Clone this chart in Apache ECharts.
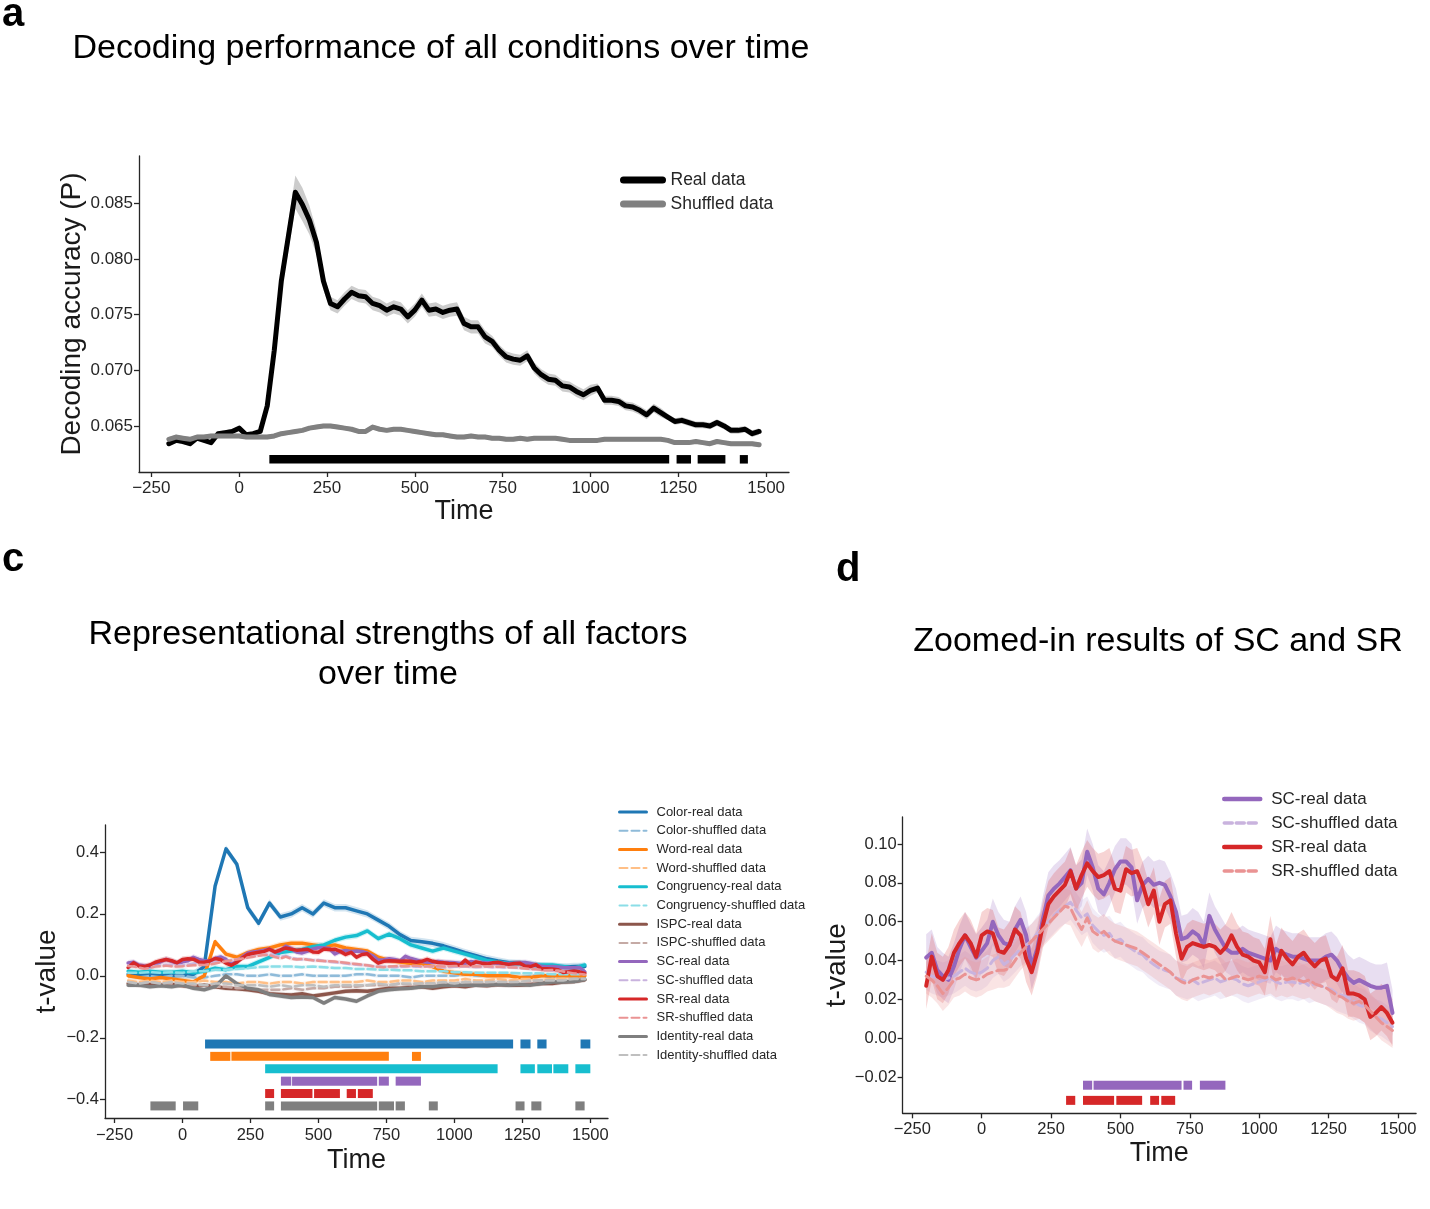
<!DOCTYPE html>
<html>
<head>
<meta charset="utf-8">
<script src="https://cdn.jsdelivr.net/npm/echarts@6/dist/echarts.min.js"></script>
<style>
html, body { margin: 0; padding: 0; background: #fff; }
#chart { width: 1430px; height: 1209px; }
</style>
</head>
<body>
<div id="chart"></div>
<script>
var FONT = "'Liberation Sans', Arial, sans-serif";
var INK = '#262626';

// 时间轴
var aTime = [-200,-180,-160,-140,-120,-100,-80,-60,-40,-20,
  0,20,40,60,80,100,120,140,160,180,
  200,220,240,260,280,300,320,340,360,380,
  400,420,440,460,480,500,520,540,560,580,
  600,620,640,660,680,700,720,740,760,780,
  800,820,840,860,880,900,920,940,960,980,
  1000,1020,1040,1060,1080,1100,1120,1140,1160,1180,
  1200,1220,1240,1260,1280,1300,1320,1340,1360,1380,
  1400,1420,1440,1460,1480];
var dTime = aTime;
var cTime = [-200,-160,-120,-80,-40,0,40,80,120,160,
  200,240,280,320,360,400,440,480,520,560,
  600,640,680,720,760,800,840,880,920,960,
  1000,1040,1080,1120,1160,1200,1240,1280,1320,1360,
  1400,1440,1480];
var timeTicks = [-250, 0, 250, 500, 750, 1000, 1250, 1500];
var aYTicks = [0.065, 0.070, 0.075, 0.080, 0.085];
var cYTicks = [-0.4, -0.2, 0, 0.2, 0.4];
var dYTicks = [-0.02, 0, 0.02, 0.04, 0.06, 0.08, 0.10];

// a: 解码正确率
var aReal = [0.0634,0.0637,0.0636,0.0634,0.0639,0.0637,0.0635,0.0643,0.0644,0.0645,
  0.0648,0.0642,0.0643,0.0645,0.0668,0.0718,0.0780,0.0820,0.0860,0.0849,
  0.0835,0.0815,0.0780,0.0760,0.0757,0.0764,0.0770,0.0767,0.0766,0.0760,
  0.0758,0.0754,0.0757,0.0755,0.0748,0.0754,0.0763,0.0754,0.0755,0.0752,
  0.0754,0.0755,0.0742,0.0739,0.0739,0.0730,0.0726,0.0718,0.0712,0.0710,
  0.0709,0.0713,0.0702,0.0696,0.0692,0.0691,0.0686,0.0685,0.0681,0.0678,
  0.0682,0.0684,0.0673,0.0673,0.0672,0.0668,0.0667,0.0664,0.0660,0.0666,
  0.0662,0.0658,0.0654,0.0655,0.0653,0.0651,0.0651,0.0650,0.0653,0.0650,
  0.0646,0.0646,0.0647,0.0643,0.0645];
var aRealSem = [0.0002,0.0002,0.0002,0.0002,0.0002,0.0002,0.0002,0.0002,0.0002,0.0002,
  0.0002,0.0002,0.0002,0.0002,0.0004,0.0008,0.0011,0.0013,0.0015,0.0015,
  0.0013,0.0011,0.0008,0.0006,0.0006,0.0006,0.0006,0.0006,0.0006,0.0006,
  0.0006,0.0006,0.0006,0.0006,0.0006,0.0006,0.0006,0.0006,0.0006,0.0006,
  0.0006,0.0006,0.0006,0.0006,0.0006,0.0006,0.0005,0.0005,0.0005,0.0005,
  0.0005,0.0005,0.0005,0.0005,0.0005,0.0005,0.0005,0.0005,0.0005,0.0005,
  0.0005,0.0004,0.0004,0.0004,0.0004,0.0004,0.0004,0.0004,0.0004,0.0004,
  0.0004,0.0003,0.0003,0.0003,0.0003,0.0003,0.0003,0.0003,0.0003,0.0003,
  0.0003,0.0003,0.0003,0.0003,0.0003];
var aShuf = [0.0638,0.0640,0.0639,0.0638,0.0640,0.0640,0.0641,0.0641,0.0641,0.0641,
  0.0641,0.0640,0.0640,0.0640,0.0640,0.0641,0.0643,0.0644,0.0645,0.0646,
  0.0648,0.0649,0.0650,0.0650,0.0649,0.0648,0.0647,0.0645,0.0645,0.0649,
  0.0647,0.0646,0.0647,0.0647,0.0646,0.0645,0.0644,0.0643,0.0642,0.0642,
  0.0641,0.0640,0.0640,0.0641,0.0640,0.0640,0.0639,0.0639,0.0638,0.0638,
  0.0639,0.0638,0.0639,0.0639,0.0639,0.0639,0.0638,0.0637,0.0637,0.0637,
  0.0637,0.0637,0.0638,0.0638,0.0638,0.0638,0.0638,0.0638,0.0638,0.0638,
  0.0638,0.0637,0.0635,0.0635,0.0635,0.0636,0.0635,0.0634,0.0636,0.0635,
  0.0634,0.0634,0.0634,0.0634,0.0633];
var aShufSem = 0.0002;
var aSig = [[86, 1224], [1245, 1286], [1305, 1384], [1425, 1448]];
var aSigRow = 0.0620;

// c: 各因素表征强度
var cColor = [0.005,0.005,0.003,0.005,0.0,0.002,0.005,0.03,0.29,0.41,
  0.36,0.22,0.17,0.235,0.19,0.20,0.22,0.20,0.235,0.22,
  0.22,0.21,0.20,0.18,0.16,0.133,0.114,0.11,0.105,0.097,
  0.086,0.075,0.065,0.055,0.048,0.042,0.04,0.035,0.032,0.03,
  0.028,0.03,0.03];
var cColorShuf = [0.0,-0.005,0.0,-0.005,0.0,0.0,-0.005,-0.005,0.0,0.005,
  0.005,0.0,0.0,0.005,0.0,0.0,0.005,0.0,0.0,0.0,
  0.0,0.005,0.005,0.0,0.0,0.0,-0.005,0.0,0.0,0.0,
  0.0,0.005,0.0,0.0,0.0,0.0,-0.005,0.0,0.0,-0.005,
  0.0,-0.005,-0.005];
var cWord = [0.0,-0.005,-0.01,-0.005,-0.01,-0.015,-0.02,0.0,0.11,0.07,
  0.06,0.075,0.085,0.09,0.10,0.105,0.105,0.10,0.095,0.10,
  0.09,0.085,0.08,0.06,0.05,0.045,0.04,0.04,0.03,0.015,
  0.01,0.005,0.005,0.0,0.0,0.0,-0.005,-0.005,0.0,0.0,
  0.0,0.0,0.0];
var cWordShuf = [-0.015,-0.02,-0.015,-0.02,-0.015,-0.02,-0.02,-0.015,-0.02,-0.02,
  -0.025,-0.02,-0.02,-0.025,-0.02,-0.02,-0.025,-0.02,-0.02,-0.02,
  -0.02,-0.02,-0.015,-0.02,-0.02,-0.015,-0.015,-0.02,-0.015,-0.015,
  -0.015,-0.01,-0.015,-0.015,-0.01,-0.015,-0.01,-0.01,-0.015,-0.01,
  -0.01,-0.01,-0.01];
var cCong = [0.015,0.012,0.015,0.012,0.012,0.015,0.01,0.015,0.025,0.02,
  0.03,0.03,0.045,0.06,0.075,0.08,0.085,0.095,0.10,0.115,
  0.125,0.13,0.145,0.12,0.135,0.12,0.10,0.09,0.08,0.09,
  0.08,0.07,0.06,0.05,0.045,0.04,0.04,0.035,0.035,0.035,
  0.03,0.025,0.035];
var cCongShuf = [0.01,0.01,0.012,0.01,0.012,0.01,0.015,0.015,0.02,0.02,
  0.022,0.025,0.028,0.03,0.03,0.03,0.028,0.03,0.028,0.025,
  0.025,0.022,0.022,0.02,0.02,0.018,0.018,0.015,0.015,0.015,
  0.012,0.012,0.01,0.01,0.01,0.01,0.008,0.008,0.008,0.005,
  0.005,0.005,0.005];
var cIspc = [-0.025,-0.03,-0.028,-0.03,-0.028,-0.032,-0.035,-0.03,-0.035,-0.04,
  -0.042,-0.045,-0.05,-0.058,-0.06,-0.062,-0.058,-0.065,-0.06,-0.055,
  -0.05,-0.048,-0.05,-0.045,-0.04,-0.04,-0.038,-0.035,-0.04,-0.035,
  -0.032,-0.035,-0.03,-0.032,-0.028,-0.03,-0.03,-0.028,-0.025,-0.025,
  -0.02,-0.018,-0.013];
var cIspcShuf = [-0.02,-0.025,-0.02,-0.025,-0.025,-0.03,-0.03,-0.03,-0.035,-0.035,
  -0.04,-0.04,-0.045,-0.045,-0.045,-0.04,-0.045,-0.04,-0.04,-0.035,
  -0.035,-0.035,-0.03,-0.03,-0.03,-0.025,-0.03,-0.025,-0.025,-0.025,
  -0.025,-0.02,-0.025,-0.02,-0.02,-0.02,-0.02,-0.02,-0.015,-0.015,
  -0.015,-0.015,-0.01];
var cIdent = [-0.03,-0.03,-0.035,-0.032,-0.035,-0.03,-0.04,-0.045,-0.035,0.0,
  -0.025,-0.04,-0.045,-0.06,-0.065,-0.07,-0.068,-0.07,-0.088,-0.07,
  -0.075,-0.082,-0.065,-0.05,-0.045,-0.042,-0.04,-0.035,-0.035,-0.03,
  -0.03,-0.03,-0.03,-0.03,-0.028,-0.03,-0.028,-0.03,-0.025,-0.02,
  -0.02,-0.018,-0.012];
var cIdentShuf = [-0.02,-0.025,-0.02,-0.025,-0.02,-0.025,-0.025,-0.03,-0.025,-0.025,
  -0.03,-0.03,-0.03,-0.035,-0.03,-0.035,-0.03,-0.03,-0.035,-0.03,
  -0.03,-0.03,-0.03,-0.025,-0.03,-0.025,-0.025,-0.025,-0.025,-0.02,
  -0.025,-0.02,-0.02,-0.02,-0.02,-0.02,-0.02,-0.015,-0.015,-0.015,
  -0.015,-0.01,-0.01];
var cSigRows = [-0.22, -0.26, -0.30, -0.34, -0.38, -0.42];
var cSigColor = [[83,1216],[1243,1280],[1305,1339],[1464,1500]];
var cSigWord = [[102,176],[180,759],[844,877]];
var cSigCong = [[304,1159],[1243,1296],[1305,1359],[1364,1419],[1445,1500]];
var cSigSC = [[362,400],[403,716],[722,759],[784,877]];
var cSigSR = [[304,337],[362,478],[484,579],[604,638],[645,700]];
var cSigIdent = [[-118,-25],[2,58],[304,337],[362,716],[722,778],[784,818],[906,939],[1225,1258],[1283,1320],[1445,1479]];

// d: SC 和 SR 放大
var scReal = [0.0415,0.044,0.035,0.032,0.030,0.037,0.046,0.053,0.047,0.0415,
  0.045,0.049,0.060,0.053,0.049,0.048,0.056,0.061,0.053,0.037,
  0.046,0.061,0.0735,0.077,0.0796,0.083,0.0865,0.077,0.080,0.096,
  0.088,0.077,0.074,0.080,0.087,0.091,0.091,0.088,0.071,0.079,
  0.082,0.079,0.080,0.079,0.073,0.065,0.051,0.052,0.055,0.053,
  0.048,0.063,0.056,0.051,0.046,0.044,0.044,0.046,0.044,0.043,
  0.042,0.041,0.040,0.046,0.044,0.043,0.042,0.042,0.041,0.040,
  0.040,0.040,0.042,0.043,0.040,0.035,0.031,0.0285,0.030,0.0285,
  0.027,0.026,0.026,0.027,0.013];
var scShuf = [0.034,0.032,0.031,0.030,0.031,0.032,0.034,0.036,0.034,0.033,
  0.034,0.036,0.040,0.042,0.038,0.040,0.043,0.046,0.048,0.050,
  0.054,0.057,0.060,0.063,0.066,0.068,0.070,0.066,0.062,0.064,
  0.058,0.055,0.053,0.054,0.050,0.051,0.048,0.046,0.044,0.043,
  0.040,0.038,0.036,0.035,0.034,0.031,0.030,0.029,0.030,0.028,
  0.029,0.030,0.031,0.029,0.030,0.031,0.030,0.028,0.027,0.028,
  0.029,0.030,0.031,0.029,0.028,0.029,0.029,0.028,0.029,0.027,
  0.028,0.027,0.026,0.025,0.023,0.022,0.021,0.019,0.017,0.016,
  0.013,0.011,0.010,0.008,0.006];
var srReal = [0.027,0.042,0.032,0.030,0.035,0.044,0.049,0.053,0.049,0.042,
  0.053,0.055,0.054,0.045,0.044,0.048,0.056,0.053,0.041,0.034,
  0.044,0.058,0.069,0.073,0.076,0.079,0.086,0.077,0.084,0.090,
  0.086,0.083,0.084,0.086,0.077,0.076,0.087,0.085,0.086,0.079,
  0.069,0.076,0.060,0.069,0.071,0.054,0.041,0.047,0.049,0.048,
  0.047,0.048,0.047,0.044,0.047,0.053,0.047,0.043,0.042,0.040,
  0.039,0.034,0.051,0.036,0.045,0.041,0.038,0.042,0.044,0.040,
  0.037,0.040,0.041,0.032,0.030,0.036,0.023,0.023,0.022,0.020,
  0.011,0.013,0.016,0.013,0.008];
var srShuf = [0.032,0.030,0.027,0.023,0.026,0.030,0.031,0.033,0.031,0.030,
  0.031,0.033,0.034,0.035,0.035,0.036,0.040,0.044,0.047,0.050,
  0.053,0.056,0.059,0.062,0.065,0.068,0.067,0.061,0.056,0.062,
  0.055,0.053,0.055,0.052,0.050,0.049,0.048,0.047,0.046,0.044,
  0.042,0.040,0.038,0.036,0.034,0.031,0.029,0.028,0.030,0.031,
  0.032,0.031,0.032,0.033,0.030,0.031,0.032,0.031,0.030,0.031,
  0.032,0.031,0.032,0.030,0.031,0.030,0.031,0.030,0.029,0.030,
  0.028,0.027,0.026,0.024,0.022,0.021,0.019,0.018,0.019,0.017,
  0.014,0.011,0.008,0.006,0.004];
var dRealSem = 0.012, dShufSem = 0.009;
var dSigRows = [-0.0242, -0.0320];
var dSigSC = [[365,398],[403,720],[727,758],[786,878]];
var dSigSR = [[304,337],[365,477],[485,578],[607,639],[647,697]];

function fmt(v, d) {
  return (v < 0 ? '\u2212' : '') + Math.abs(v).toFixed(d);
}

function xAxisOf(gi, fs, gap, margin) {
  return {
    type: 'value', gridIndex: gi, min: -285, max: 1565,
    name: 'Time', nameLocation: 'middle', nameGap: gap,
    nameTextStyle: { fontSize: 27, color: '#1a1a1a', fontFamily: FONT },
    axisLine: { show: true, onZero: false, lineStyle: { color: INK, width: 1.3 } },
    axisTick: { show: true, length: 5, lineStyle: { color: INK, width: 1.3 }, customValues: timeTicks },
    axisLabel: { fontSize: fs, color: INK, fontFamily: FONT, margin: margin, customValues: timeTicks,
      formatter: function (v) { return fmt(v, 0); } },
    splitLine: { show: false }
  };
}

function yAxisOf(gi, min, max, ticks, dec, name, gap, fs) {
  return {
    type: 'value', gridIndex: gi, min: min, max: max,
    name: name, nameLocation: 'middle', nameGap: gap,
    nameTextStyle: { fontSize: 28, color: '#1a1a1a', fontFamily: FONT },
    axisLine: { show: true, onZero: false, lineStyle: { color: INK, width: 1.3 } },
    axisTick: { show: true, length: 5, lineStyle: { color: INK, width: 1.3 }, customValues: ticks },
    axisLabel: { fontSize: fs, color: INK, fontFamily: FONT, margin: 6, customValues: ticks,
      formatter: function (v) { return fmt(v, dec); } },
    splitLine: { show: false }
  };
}

function line(name, gi, ts, vs, color, width, dash) {
  return {
    type: 'line', name: name, xAxisIndex: gi, yAxisIndex: gi,
    data: ts.map(function (t, i) { return [t, vs[i]]; }),
    symbol: 'none', silent: true,
    lineStyle: { color: color, width: width, type: dash || 'solid', join: 'round', cap: 'round' },
    itemStyle: { color: color }
  };
}

// 误差带：上下界连成一个多边形
function band(gi, ts, vs, sem, color, opacity) {
  return {
    type: 'custom', xAxisIndex: gi, yAxisIndex: gi, silent: true,
    data: [[ts[0], vs[0]]],
    renderItem: function (params, api) {
      var pts = [], i, s;
      for (i = 0; i < ts.length; i++) {
        s = Array.isArray(sem) ? sem[i] : sem;
        pts.push(api.coord([ts[i], vs[i] + s]));
      }
      for (i = ts.length - 1; i >= 0; i--) {
        s = Array.isArray(sem) ? sem[i] : sem;
        pts.push(api.coord([ts[i], vs[i] - s]));
      }
      return { type: 'polygon', shape: { points: pts }, style: { fill: color, opacity: opacity } };
    }
  };
}

// 显著性横条
function sig(gi, segs, row, color, h) {
  return {
    type: 'custom', xAxisIndex: gi, yAxisIndex: gi, silent: true,
    data: segs.map(function (s) { return [s[0], s[1], row]; }),
    encode: { x: [0, 1], y: 2 },
    renderItem: function (params, api) {
      var p0 = api.coord([api.value(0), api.value(2)]);
      var p1 = api.coord([api.value(1), api.value(2)]);
      return { type: 'rect', shape: { x: p0[0], y: p0[1] - h / 2, width: p1[0] - p0[0], height: h },
        style: { fill: color } };
    }
  };
}

var series = [];
// a
series.push(band(0, aTime, aReal, aRealSem, '#000', 0.2));
series.push(line('Real data', 0, aTime, aReal, '#000', 5));
series.push(band(0, aTime, aShuf, aShufSem, '#000', 0.2));
series.push(line('Shuffled data', 0, aTime, aShuf, '#808080', 5));
series.push(sig(0, aSig, aSigRow, '#000', 8.5));

// c
var cFactors = [
  { n: 'Color', c: '#1f77b4', l: '#8fbbd9', ts: cTime, r: cColor, s: cColorShuf, sem: 0.012 },
  { n: 'Word', c: '#ff7f0e', l: '#ffbf86', ts: cTime, r: cWord, s: cWordShuf, sem: 0.01 },
  { n: 'Congruency', c: '#17becf', l: '#8bdee7', ts: cTime, r: cCong, s: cCongShuf, sem: 0.01 },
  { n: 'ISPC', c: '#8c564b', l: '#c5aaa5', ts: cTime, r: cIspc, s: cIspcShuf, sem: 0.008 },
  { n: 'SC', c: '#9467bd', l: '#c9b3de', ts: dTime, r: scReal, s: scShuf, sem: 0.01 },
  { n: 'SR', c: '#d62728', l: '#ea9393', ts: dTime, r: srReal, s: srShuf, sem: 0.01 },
  { n: 'Identity', c: '#7f7f7f', l: '#bfbfbf', ts: cTime, r: cIdent, s: cIdentShuf, sem: 0.008 }
];
var cLegend = [];
cFactors.forEach(function (f) {
  series.push(band(1, f.ts, f.r, f.sem, f.c, 0.2));
  series.push(line(f.n + '-real data', 1, f.ts, f.r, f.c, 3.5));
  series.push(band(1, f.ts, f.s, 0.006, f.l, 0.2));
  series.push(line(f.n + '-shuffled data', 1, f.ts, f.s, f.l, 2.5, [8, 4]));
  cLegend.push({ name: f.n + '-real data', lineStyle: { width: 3 } });
  cLegend.push({ name: f.n + '-shuffled data', lineStyle: { width: 2 } });
});
var cSigs = [[cSigColor, '#1f77b4'], [cSigWord, '#ff7f0e'], [cSigCong, '#17becf'],
  [cSigSC, '#9467bd'], [cSigSR, '#d62728'], [cSigIdent, '#7f7f7f']];
cSigs.forEach(function (s, i) { series.push(sig(1, s[0], cSigRows[i], s[1], 9)); });

// d
series.push(band(2, dTime, scReal, dRealSem, '#9467bd', 0.22));
series.push(line('SC-real data', 2, dTime, scReal, '#9467bd', 4));
series.push(band(2, dTime, scShuf, dShufSem, '#c9b3de', 0.25));
series.push(line('SC-shuffled data', 2, dTime, scShuf, '#c9b3de', 3, [10, 5]));
series.push(band(2, dTime, srReal, dRealSem, '#d62728', 0.2));
series.push(line('SR-real data', 2, dTime, srReal, '#d62728', 4));
series.push(band(2, dTime, srShuf, dShufSem, '#ea9393', 0.25));
series.push(line('SR-shuffled data', 2, dTime, srShuf, '#ea9393', 3, [10, 5]));
series.push(sig(2, dSigSC, dSigRows[0], '#9467bd', 9));
series.push(sig(2, dSigSR, dSigRows[1], '#d62728', 9));

function txt(s, x, y, size, bold) {
  return { type: 'text', silent: true,
    style: { text: s, x: x, y: y, fill: '#000', font: (bold ? 'bold ' : '') + size + 'px ' + FONT,
      align: bold ? 'left' : 'center', textAlign: bold ? 'left' : 'center',
      verticalAlign: 'middle', textVerticalAlign: 'middle' } };
}

var noSymbol = { opacity: 0, color: 'rgba(0,0,0,0)', borderWidth: 0 };

var option = {
  animation: false,
  backgroundColor: '#fff',
  grid: [
    { left: 139, top: 156, width: 650, height: 316 },
    { left: 105, top: 825, width: 503, height: 293 },
    { left: 902.6, top: 817, width: 513.5, height: 296.3 }
  ],
  xAxis: [xAxisOf(0, 17, 26.5, 8), xAxisOf(1, 16.5, 29.5, 9), xAxisOf(2, 16.5, 26.5, 8)],
  yAxis: [
    yAxisOf(0, 0.06086, 0.08925, aYTicks, 3, 'Decoding accuracy (P)', 51.5, 17),
    yAxisOf(1, -0.4590, 0.4871, cYTicks, 1, 't-value', 43.5, 16.5),
    yAxisOf(2, -0.03866, 0.1139, dYTicks, 2, 't-value', 50, 16.5)
  ],
  legend: [
    { orient: 'vertical', left: 620, top: 170, padding: 0, itemWidth: 39, itemHeight: 14, itemGap: 4,
      selectedMode: false, itemStyle: noSymbol,
      textStyle: { fontSize: 17.5, fontFamily: FONT, color: INK, lineHeight: 20, padding: [0, 0, 0, 3] },
      data: [{ name: 'Real data', lineStyle: { width: 7, cap: 'round' } },
             { name: 'Shuffled data', lineStyle: { width: 7, cap: 'round' } }] },
    { orient: 'vertical', left: 618, top: 805, padding: 0, itemWidth: 27, itemHeight: 10, itemGap: 4.7,
      selectedMode: false, itemStyle: noSymbol,
      textStyle: { fontSize: 13, fontFamily: FONT, color: INK, lineHeight: 14, padding: [0, 0, 0, 5] },
      data: cLegend },
    { orient: 'vertical', left: 1222, top: 789.5, padding: 0, itemWidth: 36, itemHeight: 12, itemGap: 5,
      selectedMode: false, itemStyle: noSymbol,
      textStyle: { fontSize: 17, fontFamily: FONT, color: INK, lineHeight: 19, padding: [0, 0, 0, 6] },
      data: [{ name: 'SC-real data', lineStyle: { width: 4.5 } },
             { name: 'SC-shuffled data', lineStyle: { width: 3.5 } },
             { name: 'SR-real data', lineStyle: { width: 4.5 } },
             { name: 'SR-shuffled data', lineStyle: { width: 3.5 } }] }
  ],
  graphic: [
    txt('a', 2, 15, 40, true),
    txt('Decoding performance of all conditions over time', 441, 49, 34),
    txt('c', 2, 560, 40, true),
    txt('Representational strengths of all factors', 388, 635, 34),
    txt('over time', 388, 675, 34),
    txt('d', 836, 570, 40, true),
    txt('Zoomed-in results of SC and SR', 1158, 642, 34)
  ],
  series: series
};

var chart = echarts.init(document.getElementById('chart'));
chart.setOption(option);
</script>
</body>
</html>
